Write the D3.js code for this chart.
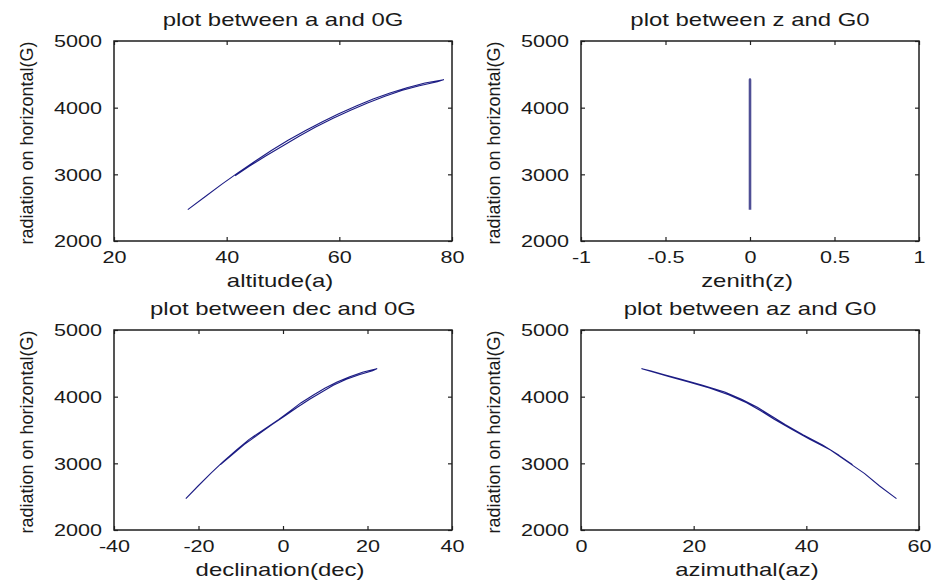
<!DOCTYPE html>
<html>
<head>
  <meta charset="utf-8">
  <title>plots of G0</title>
  <style>
    body { margin: 0; background: #fff; }
    svg { display: block; }
    text { font-family: "Liberation Sans", Arial, sans-serif; fill: #1a1a1a; }
  </style>
  <script src="https://d3js.org/d3.v7.min.js"></script>
</head>
<body>
  <svg id="chart" width="934" height="587"></svg>
  <script>
    // radiation on horizontal, one value per day sample (rising part, then falling back)
    var radiation = [2470, 2660, 2850, 3030, 3200, 3360, 3510, 3660, 3790, 3910, 4030, 4130, 4220, 4300, 4370, 4420,
                     4390, 4330, 4260, 4170, 4070, 3960, 3840, 3710, 3580, 3430, 3280, 3120, 2980];
    var altitude = [33.1, 36.1, 39.1, 42.1, 45.1, 48.0, 50.9, 54.1, 57.0, 59.9, 63.1, 66.0, 69.0, 72.0, 75.2, 78.5,
                    77.4, 74.2, 71.2, 68.1, 65.0, 62.0, 58.9, 55.8, 53.0, 50.0, 47.0, 44.0, 41.5];
    var zenith = [0, 0, 0, 0, 0, 0, 0, 0, 0, 0, 0, 0, 0, 0, 0, 0,
                  0, 0, 0, 0, 0, 0, 0, 0, 0, 0, 0, 0, 0];
    var declination = [-23.0, -20.1, -17.1, -14.1, -11.0, -8.0, -4.5, -1.0, 1.8, 4.3, 7.3, 10.0, 12.8, 15.8, 19.0, 22.2,
                       21.2, 18.0, 15.0, 11.9, 9.2, 6.3, 3.4, 0.4, -2.6, -5.9, -9.2, -12.2, -14.8];
    var azimuth = [56.0, 53.0, 50.3, 47.2, 44.3, 40.6, 37.4, 34.3, 31.9, 29.4, 26.2, 22.8, 19.1, 15.7, 12.8, 10.8,
                   12.3, 14.8, 17.8, 21.6, 25.5, 28.5, 31.3, 33.8, 36.3, 39.4, 42.8, 45.8, 48.2];

    var titles = ["plot between a and 0G", "plot between z and G0", "plot between dec and 0G", "plot between az and G0"];
    var xLabels = ["altitude(a)", "zenith(z)", "declination(dec)", "azimuthal(az)"];
    var yLabel = "radiation on horizontal(G)";
    var xDomains = [[20, 80], [-1, 1], [-40, 40], [0, 60]];
    var xTicks = [[20, 40, 60, 80], [-1, -0.5, 0, 0.5, 1], [-40, -20, 0, 20, 40], [0, 20, 40, 60]];
    var yTicks = [2000, 3000, 4000, 5000];

    var svg = d3.select("#chart");
    var panelW = 338, panelH = 200;
    var origins = [[114, 41], [581, 41], [114, 330], [581, 330]];
    var xSeries = [altitude, zenith, declination, azimuth];
    var stretch = 1.33, tickStretch = 1.35;

    svg.append("rect").attr("width", 934).attr("height", 587).attr("fill", "#fff");

    var fmt = function(d) { return String(d); };

    origins.forEach(function(o, i) {
      var g = svg.append("g").attr("transform", "translate(" + o[0] + "," + o[1] + ")");

      var x = d3.scaleLinear().domain(xDomains[i]).range([0, panelW]);
      var y = d3.scaleLinear().domain([2000, 5000]).range([panelH, 0]);

      // bottom + left axes with labels, ticks pointing inward
      var bx = g.append("g").attr("transform", "translate(0," + panelH + ")")
          .call(d3.axisBottom(x).tickValues(xTicks[i]).tickFormat(fmt).tickSize(-4).tickPadding(0));
      bx.selectAll("text")
          .attr("y", 22).attr("dy", null)
          .attr("transform", "scale(" + tickStretch + ",1)")
          .style("font-size", "16px");

      var ly = g.append("g")
          .call(d3.axisLeft(y).tickValues(yTicks).tickFormat(fmt).tickSize(-4).tickPadding(0));
      ly.selectAll("text")
          .attr("x", -12 / tickStretch)
          .attr("dy", "0.36em")
          .attr("transform", "scale(" + tickStretch + ",1)")
          .style("font-size", "16px");

      // top + right ticks only
      g.append("g").call(d3.axisTop(x).tickValues(xTicks[i]).tickSize(-4).tickFormat(""));
      g.append("g").attr("transform", "translate(" + panelW + ",0)")
          .call(d3.axisRight(y).tickValues(yTicks).tickSize(-4).tickFormat(""));

      g.selectAll(".domain").remove();
      g.selectAll(".tick line").attr("stroke", "#222").attr("stroke-width", 1.2);

      g.append("rect")
          .attr("width", panelW).attr("height", panelH)
          .attr("fill", "none").attr("stroke", "#1e1e1e").attr("stroke-width", 1.5);

      var pts = radiation.map(function(v, k) { return [xSeries[i][k], v]; });
      var line = d3.line().x(function(d) { return x(d[0]); }).y(function(d) { return y(d[1]); });

      g.append("path")
          .datum(pts)
          .attr("d", line)
          .attr("fill", "none")
          .attr("stroke", i === 1 ? "#4f4f95" : "#1c1c84")
          .attr("stroke-width", i === 1 ? 2.6 : 1.1)
          .attr("stroke-linejoin", "round");

      // title
      g.append("text")
          .attr("transform", "translate(" + (panelW / 2) + ",-15) scale(" + stretch + ",1)")
          .attr("text-anchor", "middle")
          .style("font-size", "18px")
          .text(titles[i]);

      // x label
      g.append("text")
          .attr("transform", "translate(" + (panelW / 2 - 3) + "," + (panelH + 46) + ") scale(" + stretch + ",1)")
          .attr("text-anchor", "middle")
          .style("font-size", "18px")
          .text(xLabels[i]);

      // y label
      g.append("text")
          .attr("transform", "translate(-81," + (panelH / 2 + 2) + ") rotate(-90)")
          .attr("text-anchor", "middle")
          .style("font-size", "18px")
          .text(yLabel);
    });
  </script>
</body>
</html>
